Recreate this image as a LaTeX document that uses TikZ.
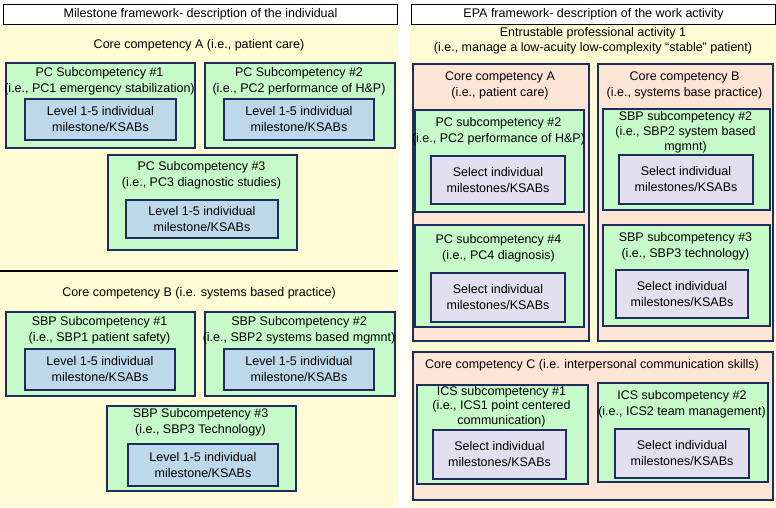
\documentclass[tikz,border=0pt]{standalone}
\usepackage{fontspec}
\setmainfont{Liberation Sans}
\definecolor{paneyellow}{HTML}{FFFBD5}
\definecolor{mint}{HTML}{C6FAC9}
\definecolor{peach}{HTML}{FDE5D5}
\definecolor{skyblue}{HTML}{BDD8E9}
\definecolor{lavender}{HTML}{E2E0EE}
\definecolor{navy}{HTML}{1F2D5E}
\tikzset{
  lbl/.style={font=\fontsize{12.5}{16}\selectfont, align=center, inner sep=0pt},
  hdrbox/.style={lbl, draw=black, line width=1.2pt, fill=white, anchor=north west},
  corebox/.style={draw=navy, line width=1.5pt, fill=peach, anchor=north west, inner sep=0pt},
  subbox/.style={draw=navy, line width=1.5pt, fill=mint, anchor=north west, inner sep=0pt},
  lvlbox/.style={lbl, draw=navy, line width=2pt, fill=skyblue, anchor=north west},
  selbox/.style={lbl, draw=navy, line width=2pt, fill=lavender, anchor=north west},
}
\begin{document}
\begin{tikzpicture}[x=1pt, y=-1pt]
\useasboundingbox (0,0) rectangle (776,507);
\fill[paneyellow] (0,25) rectangle (398,507);
\fill[paneyellow] (409,25) rectangle (776,507);

\node[hdrbox, minimum width=394pt, minimum height=20pt] (mhead) at (3,4) {Milestone framework- description of the individual};
\node[lbl] (coreA) at (199,45) {Core competency A (i.e., patient care)};
\node[subbox, minimum width=189pt, minimum height=85pt] (pc1) at (5,62) {};
\node[lbl] (pc1t) at (99.5,81.5) {PC Subcompetency \#1\\(i.e., PC1 emergency stabilization)};
\node[lvlbox, minimum width=151pt, minimum height=41pt] (pc1m) at (24,98) {Level 1-5 individual\\milestone/KSABs};
\node[subbox, minimum width=190pt, minimum height=85pt] (pc2) at (204,62) {};
\node[lbl] (pc2t) at (299,81.5) {PC Subcompetency \#2\\(i.e., PC2 performance of H\&P)};
\node[lvlbox, minimum width=150pt, minimum height=41pt] (pc2m) at (223,98) {Level 1-5 individual\\milestone/KSABs};
\node[subbox, minimum width=189pt, minimum height=95pt] (pc3) at (107,154) {};
\node[lbl] (pc3t) at (201.5,175.5) {PC Subcompetency \#3\\(i.e., PC3 diagnostic studies)};
\node[lvlbox, minimum width=152pt, minimum height=38pt] (pc3m) at (125,199) {Level 1-5 individual\\milestone/KSABs};
\coordinate (divl) at (0,271);
\coordinate (divr) at (398,271);
\draw[line width=1.5pt] (divl) -- (divr);
\node[lbl] (coreB) at (199,293) {Core competency B (i.e. systems based practice)};
\node[subbox, minimum width=189pt, minimum height=84pt] (sbp1) at (5,311) {};
\node[lbl] (sbp1t) at (99.5,330) {SBP Subcompetency \#1\\(i.e., SBP1 patient safety)};
\node[lvlbox, minimum width=150pt, minimum height=41pt] (sbp1m) at (24,348) {Level 1-5 individual\\milestone/KSABs};
\node[subbox, minimum width=190pt, minimum height=84pt] (sbp2) at (204,311) {};
\node[lbl] (sbp2t) at (299,330) {SBP Subcompetency \#2\\(i.e., SBP2 systems based mgmnt)};
\node[lvlbox, minimum width=150pt, minimum height=41pt] (sbp2m) at (223,348) {Level 1-5 individual\\milestone/KSABs};
\node[subbox, minimum width=189pt, minimum height=85pt] (sbp3) at (106,405) {};
\node[lbl] (sbp3t) at (200.5,422) {SBP Subcompetency \#3\\(i.e., SBP3 Technology)};
\node[lvlbox, minimum width=150pt, minimum height=42pt] (sbp3m) at (127,443) {Level 1-5 individual\\milestone/KSABs};

\node[hdrbox, minimum width=364pt, minimum height=20pt] (ehead) at (411,4) {EPA framework- description of the work activity};
\node[lbl, font=\fontsize{12.5}{15}\selectfont] (epa) at (593,40.5) {Entrustable professional activity 1\\(i.e., manage a low-acuity low-complexity “stable” patient)};
\node[corebox, minimum width=176pt, minimum height=277pt] (ecA) at (412,63) {};
\node[lbl] (ecAt) at (500,85.5) {Core competency A\\(i.e., patient care)};
\node[corebox, minimum width=175pt, minimum height=277pt] (ecB) at (597,63) {};
\node[lbl] (ecBt) at (684.5,85.5) {Core competency B\\(i.e., systems base practice)};
\node[subbox, minimum width=169pt, minimum height=102pt] (epc2) at (414,109) {};
\node[lbl] (epc2t) at (498.5,131) {PC subcompetency \#2\\(i.e., PC2 performance of H\&P)};
\node[selbox, minimum width=134pt, minimum height=48pt] (epc2m) at (430,155) {Select individual\\milestones/KSABs};
\node[subbox, minimum width=167pt, minimum height=101pt] (esbp2) at (602,108) {};
\node[lbl, font=\fontsize{12.5}{15}\selectfont] (esbp2t) at (685.5,132) {SBP subcompetency \#2\\(i.e., SBP2 system based\\mgmnt)};
\node[selbox, minimum width=134pt, minimum height=49pt] (esbp2m) at (618,154) {Select individual\\milestones/KSABs};
\node[subbox, minimum width=169pt, minimum height=102pt] (epc4) at (414,224) {};
\node[lbl] (epc4t) at (498.5,248.5) {PC subcompetency \#4\\(i.e., PC4 diagnosis)};
\node[selbox, minimum width=134pt, minimum height=49pt] (epc4m) at (430,272) {Select individual\\milestones/KSABs};
\node[subbox, minimum width=167pt, minimum height=101pt] (esbp3) at (602,224) {};
\node[lbl] (esbp3t) at (685.5,246.5) {SBP subcompetency \#3\\(i.e., SBP3 technology)};
\node[selbox, minimum width=132pt, minimum height=48pt] (esbp3m) at (615,269) {Select individual\\milestones/KSABs};
\node[corebox, minimum width=360pt, minimum height=148pt] (ecC) at (412,351) {};
\node[lbl] (ecCt) at (592,365) {Core competency C (i.e. interpersonal communication skills)};
\node[subbox, minimum width=171pt, minimum height=99pt] (eics1) at (416,384) {};
\node[lbl, font=\fontsize{12.5}{14.5}\selectfont] (eics1t) at (501.5,406.5) {ICS subcompetency \#1\\(i.e., ICS1 point centered\\communication)};
\node[selbox, minimum width=133pt, minimum height=49pt] (eics1m) at (432,429) {Select individual\\milestones/KSABs};
\node[subbox, minimum width=170pt, minimum height=99pt] (eics2) at (597,382) {};
\node[lbl] (eics2t) at (682,404.5) {ICS subcompetency \#2\\(i.e., ICS2 team management)};
\node[selbox, minimum width=134pt, minimum height=49pt] (eics2m) at (614,428) {Select individual\\milestones/KSABs};
\end{tikzpicture}
\end{document}
